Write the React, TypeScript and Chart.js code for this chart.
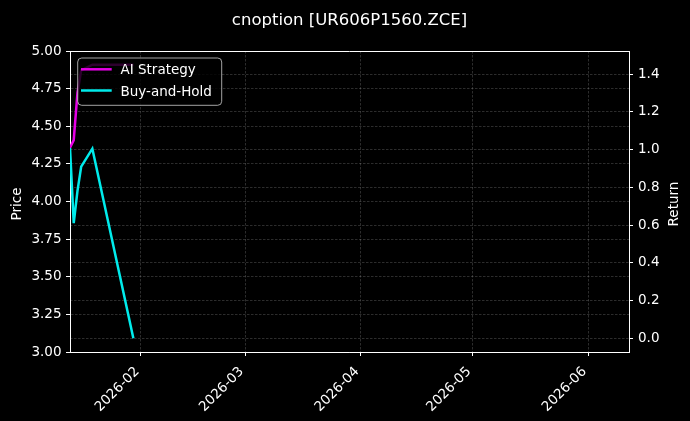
import React, { useEffect, useRef } from "react";
import { Chart, registerables } from "chart.js";

Chart.register(...registerables);

// ---- data ----
const TITLE = "cnoption [UR606P1560.ZCE]";
const dates = ["2026-01-13", "2026-01-14", "2026-01-15", "2026-01-16", "2026-01-19", "2026-01-30"];
const aiStrategy = [1.01, 1.05, 1.3, 1.42, 1.45, 1.45];
const buyAndHold = [1.01, 0.61, 0.78, 0.91, 1.005, 0.0];
const monthTicks = ["2026-02", "2026-03", "2026-04", "2026-05", "2026-06"];
const priceTicks = [3.0, 3.25, 3.5, 3.75, 4.0, 4.25, 4.5, 4.75, 5.0];
const returnTicks = [0.0, 0.2, 0.4, 0.6, 0.8, 1.0, 1.2, 1.4];
const xStart = "2026-01-13";
const xEnd = "2026-06-12";
const priceMin = 3.0;
const priceMax = 5.0;

const FONT = '"DejaVu Sans", "Liberation Sans", sans-serif';
const GRID = "rgba(255,255,255,0.22)";
const MAGENTA = "rgb(230,0,230)";
const CYAN = "rgb(0,235,235)";
const LINE_W = 2.5;

function dayIndex(s: string): number {
  const [y, m, d] = s.split("-").map(Number);
  return (Date.UTC(y, m - 1, d || 1) - Date.UTC(2026, 0, 1)) / 86400000;
}

const allReturns = [...aiStrategy, ...buyAndHold];
const rMin = Math.min(...allReturns);
const rMax = Math.max(...allReturns);
const rPad = (rMax - rMin) * 0.05;

const overlay = {
  id: "overlay",
  beforeDraw(chart: any) {
    const ctx = chart.ctx;
    ctx.save();
    ctx.fillStyle = "#000";
    ctx.fillRect(0, 0, chart.width, chart.height);
    ctx.restore();
  },
  afterDraw(chart: any) {
    const ctx = chart.ctx;
    const a = chart.chartArea;
    ctx.save();
    // top spine
    ctx.strokeStyle = "#fff";
    ctx.lineWidth = 1;
    ctx.beginPath();
    ctx.moveTo(a.left, Math.round(a.top) + 0.5);
    ctx.lineTo(a.right, Math.round(a.top) + 0.5);
    ctx.stroke();

    ctx.fillStyle = "#fff";
    // title
    ctx.font = `16.5px ${FONT}`;
    ctx.textAlign = "center";
    ctx.textBaseline = "alphabetic";
    ctx.fillText(TITLE, (a.left + a.right) / 2, 24.8);

    // axis titles
    ctx.font = `13.5px ${FONT}`;
    ctx.save();
    ctx.translate(20.7, 204);
    ctx.rotate(-Math.PI / 2);
    ctx.fillText("Price", 0, 0);
    ctx.restore();
    ctx.save();
    ctx.translate(677.5, 204);
    ctx.rotate(-Math.PI / 2);
    ctx.fillText("Return", 0, 0);
    ctx.restore();

    // x tick labels
    const xs = chart.scales.x;
    ctx.textAlign = "right";
    for (const m of monthTicks) {
      const px = xs.getPixelForValue(dayIndex(m + "-01"));
      ctx.save();
      ctx.translate(px - 1, 372);
      ctx.rotate(-Math.PI / 4);
      ctx.fillText(m, 0, 0);
      ctx.restore();
    }

    // legend
    const lx = 77.7, ly = 58, lw = 144, lh = 47.3;
    ctx.beginPath();
    ctx.roundRect(lx, ly, lw, lh, 4);
    ctx.fillStyle = "rgba(0,0,0,0.8)";
    ctx.fill();
    ctx.strokeStyle = "rgba(204,204,204,0.8)";
    ctx.lineWidth = 1;
    ctx.stroke();
    const items = [
      { label: "AI Strategy", color: MAGENTA, y: 69.3 },
      { label: "Buy-and-Hold", color: CYAN, y: 90.5 },
    ];
    ctx.textAlign = "left";
    for (const it of items) {
      ctx.strokeStyle = it.color;
      ctx.lineWidth = LINE_W;
      ctx.beginPath();
      ctx.moveTo(81, it.y);
      ctx.lineTo(111.7, it.y);
      ctx.stroke();
      ctx.fillStyle = "#fff";
      ctx.fillText(it.label, 120.5, it.y + 5);
    }
    ctx.restore();
  },
};

export default function App() {
  const ref = useRef<HTMLCanvasElement>(null);
  useEffect(() => {
    document.body.style.margin = "0";
    document.body.style.background = "#000";
    const canvas = ref.current!;
    const chart = new Chart(canvas, {
      type: "line",
      data: {
        datasets: [
          {
            label: "AI Strategy",
            data: dates.map((d, i) => ({ x: dayIndex(d), y: aiStrategy[i] })),
            borderColor: MAGENTA,
            borderWidth: LINE_W,
            pointRadius: 0,
            fill: false,
            tension: 0,
            yAxisID: "y1",
          },
          {
            label: "Buy-and-Hold",
            data: dates.map((d, i) => ({ x: dayIndex(d), y: buyAndHold[i] })),
            borderColor: CYAN,
            borderWidth: LINE_W,
            pointRadius: 0,
            fill: false,
            tension: 0,
            yAxisID: "y1",
          },
        ],
      },
      options: {
        responsive: false,
        animation: false,
        devicePixelRatio: 1,
        layout: { padding: { top: 51, left: 0, right: 0, bottom: 0 } },
        plugins: {
          legend: { display: false },
          title: { display: false },
          tooltip: { enabled: false },
        },
        scales: {
          x: {
            type: "linear",
            min: dayIndex(xStart),
            max: dayIndex(xEnd),
            afterBuildTicks: (s: any) => {
              s.ticks = monthTicks.map((m) => ({ value: dayIndex(m + "-01") }));
            },
            afterFit: (s: any) => {
              s.height = 69;
            },
            ticks: { display: false, autoSkip: false },
            grid: {
              color: GRID,
              lineWidth: 0.8,
              tickLength: 4,
              tickColor: "#fff",
              tickWidth: 1,
            },
            border: { color: "#fff", width: 1, dash: [2.5, 1.5] },
          },
          y: {
            type: "linear",
            position: "left",
            min: priceMin,
            max: priceMax,
            afterBuildTicks: (s: any) => {
              s.ticks = priceTicks.map((v) => ({ value: v }));
            },
            afterFit: (s: any) => {
              s.width = 70;
            },
            ticks: {
              autoSkip: false,
              color: "#fff",
              padding: 4.5,
              font: { family: FONT, size: 13.5 },
              callback: (v: any) => Number(v).toFixed(2),
            },
            grid: {
              color: GRID,
              lineWidth: 0.8,
              tickLength: 4,
              tickColor: "#fff",
              tickWidth: 1,
            },
            border: { color: "#fff", width: 1, dash: [2.5, 1.5] },
          },
          y1: {
            type: "linear",
            position: "right",
            min: rMin - rPad,
            max: rMax + rPad,
            afterBuildTicks: (s: any) => {
              s.ticks = returnTicks.map((v) => ({ value: v }));
            },
            afterFit: (s: any) => {
              s.width = 61;
            },
            ticks: {
              autoSkip: false,
              color: "#fff",
              padding: 5,
              font: { family: FONT, size: 13.5 },
              callback: (v: any) => Number(v).toFixed(1),
            },
            grid: {
              color: GRID,
              lineWidth: 0.8,
              tickLength: 4,
              tickColor: "#fff",
              tickWidth: 1,
            },
            border: { color: "#fff", width: 1, dash: [2.5, 1.5] },
          },
        },
      },
      plugins: [overlay],
    });
    return () => chart.destroy();
  }, []);
  return (
    <div style={{ position: "fixed", left: 0, top: 0, width: 690, height: 421, background: "#000" }}>
      <canvas ref={ref} width={690} height={421} style={{ display: "block", width: 690, height: 421 }} />
    </div>
  );
}
